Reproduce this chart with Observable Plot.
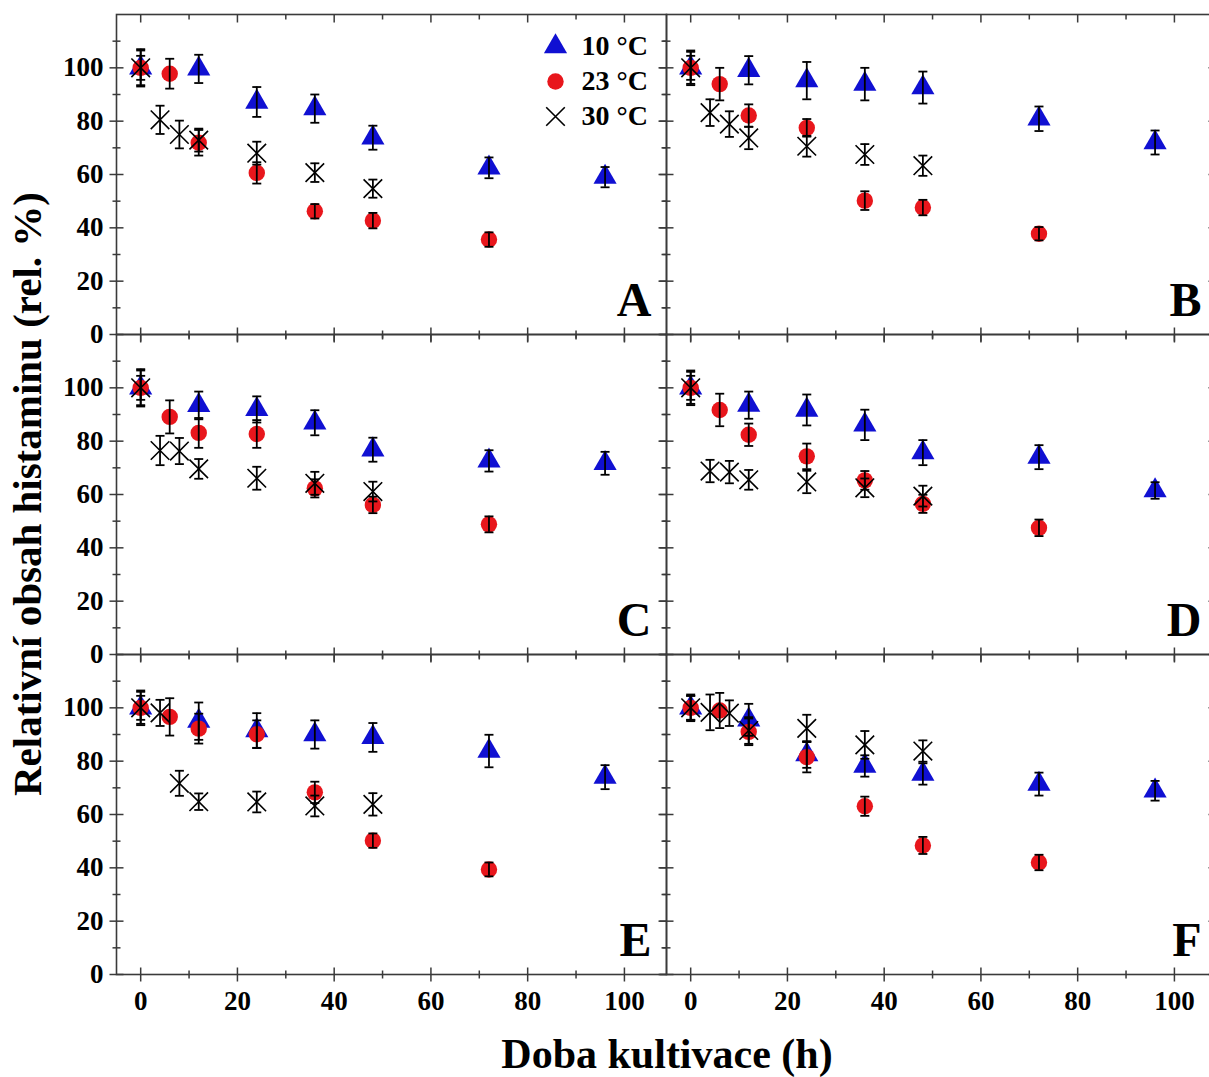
<!DOCTYPE html>
<html>
<head>
<meta charset="utf-8">
<script src="https://cdn.jsdelivr.net/npm/d3@7"></script>
<script src="https://cdn.jsdelivr.net/npm/@observablehq/plot@0.6"></script>
<style>
  html, body { margin: 0; padding: 0; background: #fff; }
  #chart { width: 1209px; height: 1077px; overflow: hidden; }
</style>
</head>
<body>
<div id="chart"></div>
<script>
// ---------- data ----------
const panels = ["A", "B", "C", "D", "E", "F"];
const series = ["10 °C", "23 °C", "30 °C"];

const hours10 = [0, 12, 24, 36, 48, 72, 96];
const hours23 = [0, 6, 12, 24, 36, 48, 72];
const hours30 = [0, 4, 8, 12, 24, 36, 48];

// one row per panel A..F
const mean10 = [
  [100, 99.6, 87.2, 84.7, 73.8, 62.5, 59.0],
  [100, 99.1, 95.2, 93.9, 92.6, 80.9, 72.0],
  [100, 93.4, 91.9, 86.9, 76.8, 72.6, 71.7],
  [100, 93.5, 91.7, 86.1, 75.7, 74.0, 61.5],
  [100, 95.0, 91.5, 90.0, 88.9, 83.8, 74.0],
  [100, 95.5, 82.5, 78.2, 75.2, 71.4, 68.9]
];
const err10 = [
  [4.5, 5.3, 5.6, 5.3, 4.5, 3.9, 3.8],
  [4.5, 5.3, 7.0, 6.1, 6.0, 4.6, 4.5],
  [4.5, 5.2, 4.9, 4.7, 4.5, 4.0, 4.3],
  [4.5, 5.1, 5.8, 5.7, 4.7, 4.5, 3.1],
  [4.5, 7.0, 6.5, 5.3, 5.4, 6.1, 4.5],
  [4.5, 6.0, 5.0, 4.0, 4.0, 4.3, 3.7]
];
const mean23 = [
  [100, 97.8, 71.9, 60.6, 46.2, 42.7, 35.6],
  [100, 93.9, 82.1, 77.5, 50.2, 47.6, 37.8],
  [100, 89.1, 83.1, 82.7, 62.3, 56.1, 48.8],
  [100, 91.7, 82.4, 74.3, 65.3, 56.5, 47.5],
  [100, 96.6, 92.2, 90.1, 68.3, 50.2, 39.4],
  [100, 99.0, 91.0, 81.5, 63.1, 48.4, 42.0]
];
const err23 = [
  [6.5, 5.6, 4.8, 4.0, 2.7, 2.9, 2.7],
  [6.5, 6.1, 4.2, 3.3, 3.5, 2.9, 2.5],
  [6.5, 6.2, 5.6, 5.2, 3.4, 3.1, 3.0],
  [6.0, 6.1, 4.2, 4.8, 3.5, 3.4, 3.1],
  [6.5, 7.0, 5.6, 5.2, 4.0, 2.7, 2.6],
  [5.0, 6.6, 5.0, 5.7, 3.6, 3.2, 2.9]
];
const mean30 = [
  [100, 80.5, 75.0, 72.9, 68.0, 60.7, 54.7],
  [100, 83.2, 78.9, 73.7, 70.6, 67.5, 63.3],
  [100, 76.5, 76.3, 69.6, 66.1, 64.2, 61.1],
  [100, 68.8, 68.4, 65.5, 64.7, 62.5, 59.4],
  [100, 98.1, 71.7, 64.8, 64.7, 63.2, 63.8],
  [100, 98.3, 98.0, 91.5, 92.3, 86.1, 83.8]
];
const err30 = [
  [7.0, 5.3, 5.2, 4.3, 4.3, 3.5, 3.4],
  [6.0, 5.0, 4.8, 4.2, 3.9, 3.9, 3.8],
  [7.0, 5.5, 4.9, 3.7, 4.3, 4.3, 3.7],
  [6.5, 4.2, 4.2, 3.7, 4.2, 3.5, 3.9],
  [6.0, 4.9, 4.7, 3.1, 3.9, 3.9, 4.2],
  [4.5, 6.7, 4.8, 5.0, 5.1, 5.2, 4.0]
];

const xMajor = [0, 20, 40, 60, 80, 100];
const xMinor = [10, 30, 50, 70, 90];
const yMajor = [0, 20, 40, 60, 80, 100];
const yMinor = [10, 30, 50, 70, 90, 110];

const xTitle = "Doba kultivace (h)";
const yTitle = "Relativní obsah histaminu (rel. %)";

// ---------- build table ----------
const hours = [hours10, hours23, hours30];
const means = [mean10, mean23, mean30];
const errs = [err10, err23, err30];
const rows = [];
panels.forEach((p, pi) => {
  series.forEach((s, si) => {
    hours[si].forEach((t, k) => {
      rows.push({panel: p, col: pi % 2, row: Math.floor(pi / 2), series: s,
                 t, v: means[si][pi][k], e: errs[si][pi][k]});
    });
  });
});
const caps = rows.flatMap(d => [{...d, c: d.v - d.e}, {...d, c: d.v + d.e}]);

// ---------- styling ----------
const xDomain = [-5, 108.7];
const yDomain = [0, 120];
const axisColor = "#3a3a3a";
const blue = "#1010d2";
const red = "#e8161c";
const symbols = ["triangle", "circle", "times"];
const sizes = [8.6, 8.2, 8.5];
const fills = [blue, red, "none"];
const strokes = ["none", "none", "black"];

const fxF = d => d.col, fyF = d => d.row;
const tickLine = {r: 0, stroke: axisColor, strokeWidth: 1.5, strokeLinecap: "butt"};

const seriesDots = series.map((s, i) => Plot.dot(rows.filter(d => d.series === s), {
  fx: fxF, fy: fyF, x: "t", y: "v", symbol: symbols[i], r: sizes[i],
  fill: fills[i], stroke: strokes[i], strokeWidth: 1.6
}));

const legendMarks = series.flatMap((s, i) => [
  Plot.dot([s], {fx: () => 0, fy: () => 0, frameAnchor: "top-right", dx: -111, dy: 32 + 35 * i,
    symbol: symbols[i], r: sizes[i], fill: fills[i], stroke: strokes[i], strokeWidth: 1.6}),
  Plot.text([s], {fx: () => 0, fy: () => 0, frameAnchor: "top-right", dx: -85, dy: 32 + 35 * i,
    text: d => d, textAnchor: "start", lineAnchor: "middle", fontSize: 28, fontWeight: "bold", fill: "black"})
]);

const chart = Plot.plot({
  width: 1209,
  height: 1077,
  marginLeft: 116,
  marginRight: -7,
  marginTop: 14,
  marginBottom: 103,
  style: {fontFamily: "'Liberation Serif', 'Times New Roman', serif", background: "white", color: "black", overflow: "hidden"},
  x: {domain: xDomain},
  y: {domain: yDomain},
  fx: {domain: [0, 1], padding: 0, axis: null},
  fy: {domain: [0, 1, 2], padding: 0, axis: null},
  marks: [
    // ticks
    Plot.vector(xMajor, {x: d => d, y: yDomain[0], length: 14, anchor: "middle", rotate: 0, ...tickLine}),
    Plot.vector(xMinor, {x: d => d, y: yDomain[0], length: 8, anchor: "middle", rotate: 0, ...tickLine}),
    Plot.vector(xMajor, {x: d => d, y: yDomain[1], length: 8, anchor: "start", rotate: 180, ...tickLine}),
    Plot.vector(xMinor, {x: d => d, y: yDomain[1], length: 5, anchor: "start", rotate: 180, ...tickLine}),
    Plot.vector(yMajor, {x: xDomain[0], y: d => d, length: 14, anchor: "middle", rotate: 90, ...tickLine}),
    Plot.vector(yMinor, {x: xDomain[0], y: d => d, length: 8, anchor: "middle", rotate: 90, ...tickLine}),
    Plot.vector(yMajor, {x: xDomain[1], y: d => d, length: 8, anchor: "start", rotate: 270, ...tickLine}),
    Plot.vector(yMinor, {x: xDomain[1], y: d => d, length: 5, anchor: "start", rotate: 270, ...tickLine}),
    Plot.frame({stroke: axisColor, strokeWidth: 1.6}),
    // axes labels
    Plot.axisX({ticks: xMajor, anchor: "bottom", facetAnchor: "bottom", tickSize: 0, tickPadding: 16,
      fontSize: 27, fontWeight: "bold", label: null, tickFormat: d => String(d)}),
    Plot.axisY({ticks: yMajor, anchor: "left", facetAnchor: "left", tickSize: 0, tickPadding: 13,
      fontSize: 27, fontWeight: "bold", label: null, tickFormat: d => String(d)}),
    // data
    ...seriesDots,
    Plot.ruleX(rows, {fx: fxF, fy: fyF, x: "t", y1: d => d.v - d.e, y2: d => d.v + d.e, stroke: "black", strokeWidth: 1.8}),
    Plot.vector(caps, {fx: fxF, fy: fyF, x: "t", y: "c", length: 9, anchor: "middle", rotate: 90,
      r: 0, stroke: "black", strokeWidth: 1.8, strokeLinecap: "butt"}),
    // panel letters
    Plot.text(panels, {fx: (d, i) => i % 2, fy: (d, i) => Math.floor(i / 2), text: d => d,
      frameAnchor: "bottom-right", textAnchor: "end", lineAnchor: "bottom", dx: -15, dy: -19,
      fontSize: 48, fontWeight: "bold", fill: "black"}),
    ...legendMarks
  ]
});

// axis titles
const svg = d3.select(chart);
svg.append("text")
  .attr("x", 667).attr("y", 1068)
  .attr("text-anchor", "middle")
  .attr("font-size", 42).attr("font-weight", "bold").attr("fill", "black")
  .text(xTitle);
svg.append("text")
  .attr("transform", "translate(41,494) rotate(-90)")
  .attr("text-anchor", "middle")
  .attr("font-size", 41).attr("font-weight", "bold").attr("fill", "black")
  .text(yTitle);

document.getElementById("chart").appendChild(chart);
</script>
</body>
</html>
